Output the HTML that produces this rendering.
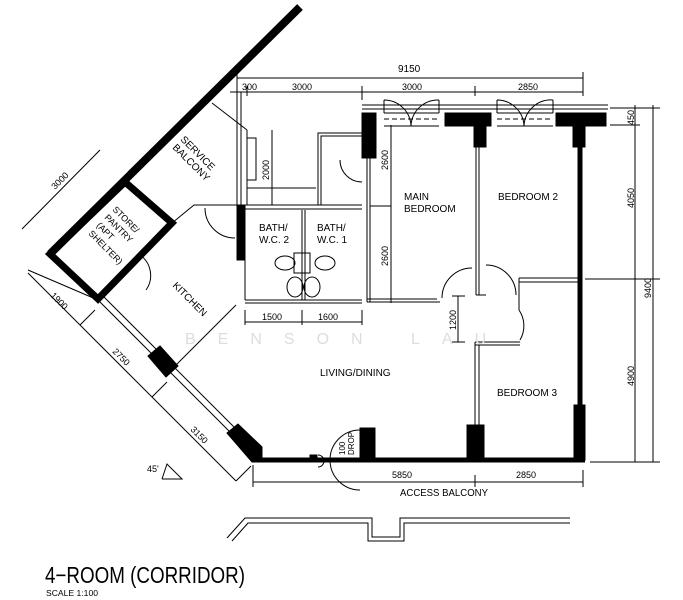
<!DOCTYPE html>
<html><head><meta charset="utf-8"><style>
html,body{margin:0;padding:0;background:#fff;width:683px;height:600px;overflow:hidden}
svg{display:block}
text{font-family:"Liberation Sans",sans-serif;fill:#000}
</style></head><body>
<svg width="683" height="600" viewBox="0 0 683 600" xmlns="http://www.w3.org/2000/svg">
<g stroke="#000" fill="none" stroke-width="1">
<line x1="300" y1="7" x2="50" y2="254" stroke-width="8"/>
<polygon points="50,254 125,182 172,223 98,299" stroke-width="7"/>
<line x1="98" y1="300" x2="256" y2="458" stroke-width="1"/>
<line x1="103" y1="296" x2="260" y2="453"/>
<polygon points="148,356 160,346 178,366 166,377" fill="#000"/>
<polygon points="227,433 238,424 262,447 262,462 252,462" fill="#000"/>
<line x1="253" y1="460" x2="585" y2="460" stroke-width="5"/>
<rect x="360" y="428" width="15" height="32" fill="#000"/>
<rect x="467" y="425" width="17" height="35" fill="#000"/>
<rect x="574" y="405" width="11" height="55" fill="#000"/>
<rect x="310" y="455" width="7" height="6" fill="#000"/>
<path d="M360,430 A30,30 0 0 0 360,490" />
<path d="M318,455 A6,6 0 0 1 318,467"/>
<text x="0" y="0" font-size="8" transform="translate(345,455) rotate(-90)" stroke="none">100</text>
<text x="0" y="0" font-size="8" transform="translate(354,455) rotate(-90)" stroke="none">DROP</text>
<line x1="580" y1="125" x2="580" y2="460" stroke-width="5"/>
<line x1="362" y1="105" x2="608" y2="105"/>
<line x1="362" y1="109" x2="608" y2="109"/>
<rect x="362" y="113" width="14" height="45" fill="#000"/>
<rect x="445" y="113" width="46" height="13" fill="#000"/>
<rect x="474" y="113" width="12" height="34" fill="#000"/>
<rect x="556" y="113" width="50" height="13" fill="#000"/>
<rect x="573" y="113" width="12" height="34" fill="#000"/>
<line x1="384" y1="113" x2="439" y2="113"/><line x1="384" y1="126" x2="439" y2="126"/>
<line x1="497" y1="113" x2="553" y2="113"/><line x1="497" y1="126" x2="553" y2="126"/>
<line x1="384" y1="119" x2="439" y2="119" stroke-dasharray="5,3"/>
<line x1="497" y1="119" x2="553" y2="119" stroke-dasharray="5,3"/>
<path d="M384,100 L384,113 M439,100 L439,113 M384,100 A27,27 0 0 1 411,126 M439,100 A27,27 0 0 0 411,126"/>
<path d="M497,100 L497,113 M553,100 L553,113 M497,100 A27,27 0 0 1 524,126 M553,100 A27,27 0 0 0 524,126"/>
<line x1="476" y1="147" x2="476" y2="295"/><line x1="479" y1="147" x2="479" y2="295"/>
<line x1="476" y1="295" x2="486" y2="295"/>
<line x1="370" y1="158" x2="370" y2="302"/><line x1="367" y1="158" x2="367" y2="302"/>
<line x1="367" y1="302" x2="440" y2="302"/><line x1="367" y1="299" x2="437" y2="299"/>
<path d="M442,298 A30,30 0 0 1 472,268"/>
<path d="M486,265 A30,30 0 0 1 516,295"/>
<line x1="519" y1="278" x2="578" y2="278"/><line x1="519" y1="282" x2="578" y2="282"/>
<line x1="519" y1="278" x2="519" y2="310"/>
<path d="M519,310 A28,28 0 0 1 520,340"/>
<line x1="475" y1="342" x2="520" y2="342"/><line x1="475" y1="345" x2="520" y2="345"/>
<line x1="475" y1="342" x2="475" y2="425"/><line x1="479" y1="345" x2="479" y2="425"/>
<line x1="237" y1="205" x2="362" y2="205"/><line x1="237" y1="209" x2="362" y2="209"/>
<rect x="237" y="205" width="8" height="55" fill="#000"/>
<line x1="245" y1="260" x2="245" y2="300"/>
<line x1="245" y1="300" x2="362" y2="300"/><line x1="245" y1="303" x2="362" y2="303"/>
<line x1="302" y1="210" x2="302" y2="300"/><line x1="305" y1="210" x2="305" y2="300"/>
<ellipse cx="285" cy="263" rx="10" ry="7"/><ellipse cx="325" cy="263" rx="10" ry="7"/>
<rect x="294" y="253" width="16" height="20"/>
<ellipse cx="295" cy="287" rx="8" ry="10"/><ellipse cx="312" cy="287" rx="8" ry="10"/>
<line x1="237" y1="78" x2="237" y2="205"/><line x1="241" y1="92" x2="241" y2="205"/>
<line x1="212" y1="103" x2="247" y2="130"/><line x1="247" y1="130" x2="247" y2="205"/>
<rect x="247" y="138" width="9" height="42"/>
<line x1="247" y1="188" x2="316" y2="188"/>
<polyline points="318,205 318,133 362,133"/><polyline points="321,205 321,136 362,136"/>
<path d="M340,160 A22,22 0 0 0 362,182"/>
<polyline points="172,223 194,205 237,205"/>
<path d="M205,208 A30,30 0 0 0 235,238"/>
<path d="M140,255 A25,25 0 0 1 146,290"/>
<line x1="236" y1="305" x2="175" y2="366"/>
<line x1="237" y1="78" x2="583" y2="78"/>
<line x1="230" y1="92" x2="583" y2="92"/>
<line x1="237" y1="72" x2="237" y2="96"/><line x1="247" y1="86" x2="247" y2="96"/>
<line x1="362" y1="86" x2="362" y2="100"/><line x1="475" y1="86" x2="475" y2="96"/><line x1="583" y1="72" x2="583" y2="96"/>
<line x1="635" y1="105" x2="635" y2="462"/><line x1="653" y1="105" x2="653" y2="462"/>
<line x1="610" y1="108" x2="660" y2="108"/><line x1="610" y1="125" x2="640" y2="125"/>
<line x1="585" y1="279" x2="660" y2="279"/><line x1="590" y1="462" x2="660" y2="462"/>
<line x1="253" y1="482" x2="583" y2="482"/>
<line x1="253" y1="465" x2="253" y2="487"/><line x1="475" y1="475" x2="475" y2="487"/><line x1="583" y1="470" x2="583" y2="487"/>
<line x1="391" y1="125" x2="391" y2="303"/><line x1="370" y1="206" x2="391" y2="206"/>
<line x1="458" y1="296" x2="458" y2="342"/><line x1="452" y1="296" x2="465" y2="296"/><line x1="452" y1="342" x2="465" y2="342"/>
<line x1="272" y1="130" x2="272" y2="205"/>
<line x1="245" y1="322" x2="362" y2="322"/><line x1="245" y1="310" x2="245" y2="325"/><line x1="302" y1="310" x2="302" y2="325"/><line x1="362" y1="310" x2="362" y2="325"/>
<line x1="22" y1="229" x2="100" y2="150"/><line x1="28" y1="270" x2="98" y2="300"/>
<line x1="28" y1="273" x2="80" y2="325"/><line x1="80" y1="325" x2="152" y2="397"/><line x1="152" y1="397" x2="236" y2="481"/>
<line x1="80" y1="325" x2="95" y2="310"/><line x1="152" y1="397" x2="167" y2="382"/><line x1="236" y1="481" x2="251" y2="466"/>
<polyline points="162,479 182,479 167,464 162,479"/>
<polyline points="227,538 245,518 372,518 372,537 400,537 400,518 570,518"/>
<polyline points="232,541 248,523 368,523 368,541 404,541 404,523 570,523"/>
</g>
<g font-size="10" stroke="none">
<text x="398" y="72">9150</text>
<text x="242" y="90" font-size="9">300</text><text x="292" y="90" font-size="9">3000</text>
<text x="402" y="90" font-size="9">3000</text><text x="518" y="90" font-size="9">2850</text>
<text x="392" y="478" font-size="9">5850</text><text x="516" y="478" font-size="9">2850</text>
<text x="400" y="496" font-size="10" textLength="88" lengthAdjust="spacingAndGlyphs">ACCESS BALCONY</text>
<text x="262" y="320" font-size="9">1500</text><text x="318" y="320" font-size="9">1600</text>
<text font-size="9" transform="translate(634,125) rotate(-90)">450</text>
<text font-size="9" transform="translate(634,208) rotate(-90)">4050</text>
<text font-size="9" transform="translate(634,386) rotate(-90)">4900</text>
<text font-size="9" transform="translate(651,298) rotate(-90)">9400</text>
<text font-size="9" transform="translate(388,170) rotate(-90)">2600</text>
<text font-size="9" transform="translate(388,266) rotate(-90)">2600</text>
<text font-size="9" transform="translate(456,330) rotate(-90)">1200</text>
<text font-size="9" transform="translate(269,180) rotate(-90)">2000</text>
<text font-size="9" transform="translate(55,190) rotate(-45)">3000</text>
<text font-size="9" transform="translate(50,296) rotate(45)">1900</text>
<text font-size="9" transform="translate(112,352) rotate(45)">2750</text>
<text font-size="9" transform="translate(190,430) rotate(45)">3150</text>
<text font-size="9" x="147" y="472">45'</text>
<text x="404" y="200">MAIN</text><text x="404" y="212">BEDROOM</text>
<text x="498" y="200">BEDROOM 2</text>
<text x="497" y="396">BEDROOM 3</text>
<text x="320" y="376">LIVING/DINING</text>
<text x="259" y="231">BATH/</text><text x="259" y="243">W.C. 2</text>
<text x="317" y="231">BATH/</text><text x="317" y="243">W.C. 1</text>
<text transform="translate(172,286) rotate(45)">KITCHEN</text>
<text transform="translate(180,140) rotate(45)">SERVICE</text>
<text transform="translate(172,148) rotate(45)">BALCONY</text>
<text font-size="9" transform="translate(112,210) rotate(45)">STORE/</text>
<text font-size="9" transform="translate(104,218) rotate(45)">PANTRY</text>
<text font-size="9" transform="translate(96,226) rotate(45)">(APT</text>
<text font-size="9" transform="translate(88,234) rotate(45)">SHELTER)</text>
<text x="185" y="344" font-size="16" style="fill:#ddd;letter-spacing:22px">BENSON LAU</text>
<text x="45" y="583" font-size="23" textLength="200" lengthAdjust="spacingAndGlyphs">4−ROOM (CORRIDOR)</text>
<text x="46" y="596" font-size="8" textLength="52" lengthAdjust="spacingAndGlyphs">SCALE 1:100</text>
</g>
</svg>
</body></html>
